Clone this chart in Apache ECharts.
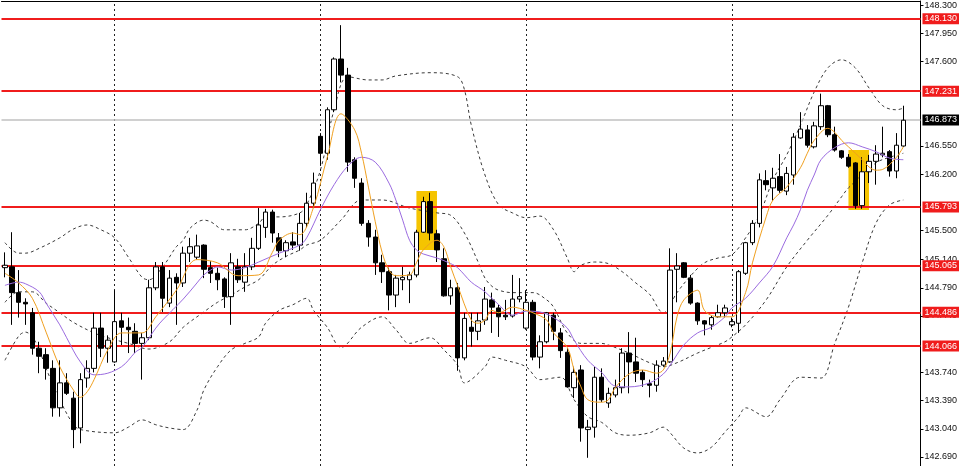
<!DOCTYPE html>
<html><head><meta charset="utf-8">
<script src="https://cdn.jsdelivr.net/npm/echarts@6/dist/echarts.min.js"></script>
<style>html,body{margin:0;padding:0;background:#fff;}#c{width:960px;height:466px;}</style>
</head><body><div id="c"></div>
<script>
// ---- data (USDJPY, H4) ----
const barCount = 132;
const shiftBars = 2;
const categories = Array.from({length: barCount + shiftBars}, (_, i) => 'H4 bar ' + (i + 1));

const opens = [145.04,145.05,144.73,144.61,144.48,144.04,143.96,143.79,143.30,143.61,
143.42,143.05,143.67,143.79,144.29,144.04,143.87,144.38,144.30,144.25,
144.10,144.17,144.79,145.05,144.60,144.92,144.85,145.22,145.17,145.32,
145.04,144.97,144.90,144.68,145.05,144.86,145.05,145.28,145.54,145.73,
145.41,145.25,145.36,145.32,145.59,145.84,146.67,146.46,147.00,147.63,
147.43,146.38,146.09,145.59,145.42,145.10,144.99,144.70,144.89,144.89,
144.95,145.48,145.86,145.46,145.15,144.69,144.79,143.92,144.30,144.25,
144.39,144.64,144.54,144.45,144.44,144.65,144.29,144.61,143.93,144.12,
144.45,144.23,143.99,143.55,143.77,143.03,143.06,143.68,143.36,143.46,
143.55,143.98,143.87,143.74,143.60,143.58,143.83,143.87,145.02,145.10,
144.91,144.60,144.38,144.33,144.43,144.48,144.33,144.35,144.97,145.35,
145.59,146.12,146.03,146.17,145.99,146.19,146.65,146.75,146.54,146.79,
147.05,146.69,146.49,146.41,146.34,145.81,146.23,146.36,146.44,146.48,
146.24,146.55];
const highs = [145.23,145.48,145.01,144.66,144.54,144.12,144.04,143.89,143.89,143.73,
143.50,143.73,143.89,144.48,144.48,144.20,144.76,144.48,144.42,144.35,
144.23,144.89,145.11,145.11,145.01,144.97,145.30,145.41,145.45,145.33,
145.12,145.04,144.92,145.22,145.15,145.22,145.41,145.78,145.77,145.76,
145.47,145.38,145.48,145.72,145.97,146.22,146.71,147.03,147.65,148.05,
147.52,146.41,146.15,145.63,145.51,145.20,145.04,144.95,145.05,144.99,
145.51,145.92,145.97,145.51,145.28,144.89,144.85,144.48,144.48,144.48,
144.80,144.73,144.58,144.64,144.95,144.91,144.76,144.64,144.20,144.49,
144.48,144.29,144.04,143.81,143.83,143.15,143.81,143.79,143.55,143.65,
144.04,144.24,144.17,143.77,143.65,143.89,143.93,145.28,145.22,145.11,
144.95,144.61,144.39,144.44,144.58,144.58,144.42,145.01,145.36,145.63,
146.21,146.25,146.28,146.45,146.29,146.71,146.97,146.81,146.85,147.20,
147.06,146.79,146.50,146.45,146.35,146.41,146.44,146.56,146.79,146.50,
146.71,147.05];
const lows = [144.92,144.33,144.42,144.33,143.96,143.73,143.65,143.19,143.19,143.46,
142.80,142.86,143.55,143.74,143.93,143.86,143.86,144.08,143.98,143.98,
143.65,144.14,144.76,144.49,144.55,144.33,144.80,145.11,145.14,144.91,
144.85,144.76,144.54,144.33,144.85,144.74,145.01,145.26,145.41,145.35,
145.17,145.17,145.26,145.25,145.54,145.78,146.31,146.38,146.97,147.34,
146.23,146.03,145.56,145.30,144.95,144.85,144.51,144.55,144.76,144.60,
144.92,145.47,145.38,145.11,144.68,144.58,143.76,143.89,144.06,144.14,
144.33,144.23,144.18,144.39,144.42,144.61,144.27,143.89,143.79,144.10,
144.14,143.92,143.55,143.42,142.88,142.68,142.93,143.37,143.30,143.43,
143.48,143.48,143.62,143.56,143.43,143.50,143.81,143.86,144.61,144.91,
144.58,144.33,144.20,144.27,144.42,144.42,144.30,144.23,144.95,145.32,
145.54,146.00,145.87,145.97,145.94,146.07,146.64,146.53,146.52,146.75,
146.66,146.48,146.39,146.28,145.77,145.77,146.09,146.07,146.41,146.17,
146.15,146.54];
const closes = [145.07,144.73,144.61,144.59,144.04,143.94,143.79,143.30,143.61,143.48,
143.03,143.65,143.79,144.29,144.04,144.14,144.37,144.30,144.27,144.10,
144.17,144.79,145.05,144.66,144.91,144.85,145.22,145.30,145.31,145.02,
144.97,144.89,144.68,145.10,144.89,145.05,145.28,145.57,145.73,145.47,
145.25,145.35,145.32,145.59,145.84,146.09,146.46,147.00,147.63,147.43,
146.35,146.15,145.59,145.42,145.10,144.99,144.70,144.91,144.92,144.95,
145.48,145.86,145.47,145.26,144.69,144.79,143.92,144.41,144.25,144.38,
144.65,144.55,144.43,144.43,144.65,144.68,144.61,143.93,144.12,144.48,
144.25,144.01,143.56,143.74,143.05,143.06,143.68,143.40,143.48,143.55,
143.98,143.87,143.73,143.65,143.58,143.83,143.88,145.01,145.06,144.92,
144.60,144.38,144.34,144.42,144.48,144.54,144.37,144.99,145.35,145.59,
146.13,146.07,146.15,146.00,146.21,146.66,146.76,146.56,146.80,147.05,
146.69,146.50,146.41,146.30,145.81,146.23,146.36,146.45,146.46,146.24,
146.56,146.87];

// indicator lines, read at sample bars: [bar index, price]
const maFast = [[0,144.97],[2,144.85],[4,144.66],[6,144.24],[8,143.81],[10,143.52],[11,143.43],[12,143.50],[13,143.65],[15,144.02],[17,144.23],[20,144.23],[22,144.43],[25,144.76],[28,145.14],[31,145.10],[34,144.94],[37,144.95],[39,145.23],[40,145.38],[42,145.47],[43,145.45],[45,145.79],[47,146.41],[49,146.95],[51,146.75],[52,146.46],[53,146.04],[54,145.61],[55,145.23],[56,145.01],[57,144.94],[59,144.95],[60,145.10],[61,145.26],[63,145.38],[64,145.30],[65,145.05],[66,144.82],[68,144.39],[69,144.35],[70,144.39],[71,144.51],[72,144.48],[74,144.55],[76,144.51],[77,144.48],[79,144.39],[80,144.23],[82,144.05],[83,143.77],[84,143.56],[85,143.40],[87,143.37],[88,143.40],[89,143.55],[91,143.72],[93,143.77],[95,143.73],[96,143.77],[97,143.98],[98,144.43],[99,144.64],[101,144.76],[102,144.51],[104,144.43],[106,144.43],[108,144.73],[109,145.10],[111,145.67],[112,145.88],[114,146.04],[116,146.28],[117,146.46],[118,146.62],[120,146.77],[121,146.72],[122,146.62],[123,146.54],[125,146.38],[126,146.29],[127,146.25],[128,146.26],[130,146.41],[131,146.54]];
const maSlow = [[0,144.82],[2,144.86],[3,144.84],[5,144.74],[6,144.60],[8,144.33],[9,144.17],[11,143.87],[13,143.71],[15,143.73],[17,143.81],[18,143.89],[19,143.99],[20,144.05],[22,144.29],[23,144.39],[26,144.65],[28,144.85],[29,144.95],[30,145.01],[31,145.05],[33,145.01],[35,145.04],[37,145.11],[40,145.22],[43,145.32],[44,145.41],[46,145.76],[48,146.07],[50,146.30],[52,146.41],[54,146.35],[56,146.09],[57,145.88],[58,145.63],[59,145.38],[60,145.26],[61,145.21],[63,145.16],[65,145.09],[66,145.04],[68,144.86],[69,144.80],[70,144.74],[72,144.58],[74,144.45],[76,144.50],[78,144.49],[80,144.42],[82,144.29],[83,144.14],[85,143.89],[87,143.74],[89,143.57],[91,143.56],[94,143.61],[96,143.72],[97,143.83],[99,144.08],[101,144.23],[103,144.30],[105,144.43],[106,144.54],[108,144.66],[110,144.85],[112,145.06],[114,145.41],[115,145.57],[116,145.76],[117,146.00],[118,146.19],[119,146.38],[121,146.53],[123,146.59],[125,146.54],[127,146.48],[129,146.40],[131,146.38]];
const bbUpper = [[0,145.35],[2,145.22],[3,145.22],[5,145.28],[8,145.41],[10,145.52],[12,145.57],[14,145.51],[16,145.41],[18,145.17],[20,144.92],[21,144.89],[23,145.05],[25,145.30],[26,145.38],[27,145.53],[29,145.63],[30,145.61],[32,145.51],[35,145.51],[37,145.59],[38,145.67],[40,145.67],[43,145.72],[44,145.82],[46,146.25],[48,147.00],[50,147.41],[53,147.37],[55,147.37],[57,147.42],[62,147.46],[66,147.41],[67,147.25],[68,146.81],[70,146.19],[72,145.82],[74,145.72],[76,145.66],[78,145.68],[80,145.51],[82,145.16],[83,144.99],[84,145.07],[86,145.11],[88,145.09],[90,144.99],[92,144.85],[94,144.71],[96,144.48],[98,144.73],[100,144.94],[102,145.10],[104,145.16],[106,145.20],[108,145.41],[110,145.69],[112,146.13],[114,146.44],[116,146.81],[118,147.22],[120,147.52],[122,147.62],[124,147.52],[126,147.27],[128,147.05],[130,147.00],[131,147.02]];
const bbMiddle = [[0,144.61],[2,144.74],[4,144.74],[6,144.60],[8,144.48],[10,144.36],[13,144.23],[15,144.17],[18,144.10],[21,144.03],[24,144.12],[26,144.30],[29,144.49],[31,144.61],[33,144.70],[35,144.80],[37,144.89],[39,145.07],[41,145.18],[43,145.26],[44,145.32],[46,145.38],[49,145.63],[52,145.88],[55,145.88],[59,145.78],[63,145.72],[65,145.69],[67,145.47],[69,145.11],[70,144.91],[71,144.81],[72,144.76],[74,144.73],[77,144.73],[79,144.64],[80,144.55],[82,144.23],[84,144.10],[87,144.10],[88,144.08],[91,143.98],[94,143.86],[96,143.81],[98,143.86],[101,143.98],[103,144.05],[105,144.12],[106,144.18],[108,144.33],[111,144.64],[114,145.05],[117,145.38],[120,145.69],[122,145.92],[123,146.03],[127,146.34],[129,146.41],[131,146.46]];
const bbLower = [[0,143.89],[2,144.19],[3,144.24],[4,144.18],[5,144.02],[6,143.79],[8,143.40],[10,143.09],[11,143.03],[16,142.99],[18,143.06],[20,143.15],[22,143.09],[24,143.05],[26,143.03],[28,143.27],[29,143.52],[31,143.81],[33,144.02],[35,144.10],[37,144.18],[38,144.35],[40,144.51],[42,144.58],[44,144.66],[45,144.51],[47,144.30],[49,144.05],[52,144.30],[55,144.43],[57,144.27],[59,144.10],[62,144.17],[64,144.02],[66,143.83],[67,143.61],[70,143.81],[71,143.93],[73,143.89],[76,143.81],[78,143.65],[81,143.68],[83,143.40],[85,143.19],[87,143.12],[89,142.99],[91,142.96],[94,142.99],[96,143.06],[97,142.99],[99,142.80],[101,142.74],[103,142.81],[105,143.00],[107,143.19],[108,143.30],[111,143.19],[113,143.40],[116,143.68],[119,143.67],[121,144.10],[123,144.55],[125,145.10],[127,145.59],[129,145.82],[131,145.88]];

// horizontal levels, current price, week separators, highlight boxes
const levelPrices = [148.130, 147.231, 145.793, 145.065, 144.486, 144.066];
const lastPrice = 146.873;
const weekStarts = [16, 46, 76, 106];
const highlightBoxes = [[60, 63, 145.991, 145.259], [123, 126, 146.500, 145.756]];
const yTicks = [142.690, 143.040, 143.390, 143.740, 144.440, 144.790, 145.140, 145.500, 146.200, 146.550, 147.600, 147.950, 148.300];
const yMin = 142.578, yMax = 148.350;

const candles = opens.map((o, i) => [o, closes[i], lows[i], highs[i]]);
const dashStyle = {color: '#3a3a3a', width: 1, type: [3, 3]};
const labelFont = 'Liberation Sans, Arial, sans-serif';

const chart = echarts.init(document.getElementById('c'), null, {renderer: 'canvas'});
chart.setOption({
  animation: false,
  backgroundColor: '#ffffff',
  grid: {left: 1.5, right: 38, top: 1, bottom: 0},
  xAxis: {
    type: 'category', data: categories, position: 'top', boundaryGap: true,
    axisLine: {show: true, lineStyle: {color: '#000', width: 1}},
    axisTick: {show: false}, axisLabel: {show: false}, splitLine: {show: false}
  },
  yAxis: {
    type: 'value', position: 'right', min: yMin, max: yMax, scale: true,
    axisLine: {show: true, lineStyle: {color: '#000', width: 1}},
    axisTick: {show: true, customValues: yTicks, length: 3, lineStyle: {color: '#000'}},
    axisLabel: {customValues: yTicks, formatter: v => v.toFixed(3), fontSize: 9, fontFamily: labelFont, color: '#111', margin: 4},
    splitLine: {show: false}
  },
  series: [
    {
      name: 'BB upper', type: 'line', data: bbUpper, smooth: 0.35, showSymbol: false, z: 2,
      lineStyle: dashStyle, silent: true,
      markArea: {
        silent: true, itemStyle: {color: '#f5c400', opacity: 1},
        data: highlightBoxes.map(b => [{xAxis: b[0], yAxis: b[2]}, {xAxis: b[1], yAxis: b[3]}])
      }
    },
    {
      name: 'BB middle', type: 'line', data: bbMiddle, smooth: 0.35, showSymbol: false, z: 2,
      lineStyle: dashStyle, silent: true,
      markLine: {
        silent: true, symbol: 'none', label: {show: false},
        lineStyle: {color: '#222', width: 1, type: [2, 3]},
        data: weekStarts.map(w => ({xAxis: w}))
      }
    },
    {name: 'BB lower', type: 'line', data: bbLower, smooth: 0.35, showSymbol: false, z: 2, lineStyle: dashStyle, silent: true},
    {
      name: 'Price', type: 'candlestick', data: candles, z: 5, barWidth: 5,
      itemStyle: {color: '#ffffff', color0: '#000000', borderColor: '#000000', borderColor0: '#000000', borderWidth: 1}
    },
    {name: 'MA slow', type: 'line', data: maSlow, smooth: 0.35, showSymbol: false, z: 6, lineStyle: {color: '#9b6be0', width: 1}, silent: true},
    {
      name: 'MA fast', type: 'line', data: maFast, smooth: 0.35, showSymbol: false, z: 7, lineStyle: {color: '#f0a020', width: 1}, silent: true,
      markLine: {
        silent: true, symbol: 'none', precision: 3,
        data: levelPrices.map(v => ({
          yAxis: v,
          lineStyle: {color: '#f01c1c', width: 2, type: 'solid'},
          label: {show: true, position: 'end', distance: 2, formatter: p => Number(p.value).toFixed(3),
            backgroundColor: '#f01c1c', color: '#ffffff', fontSize: 9, fontFamily: labelFont, padding: [1, 2, 1, 2]}
        })).concat([{
          yAxis: lastPrice,
          lineStyle: {color: '#c0c0c0', width: 1.5, type: 'solid'},
          label: {show: true, position: 'end', distance: 2, formatter: p => Number(p.value).toFixed(3),
            backgroundColor: '#000000', color: '#ffffff', fontSize: 9, fontFamily: labelFont, padding: [1, 2, 1, 2]}
        }])
      }
    }
  ]
});
</script>
</body></html>
